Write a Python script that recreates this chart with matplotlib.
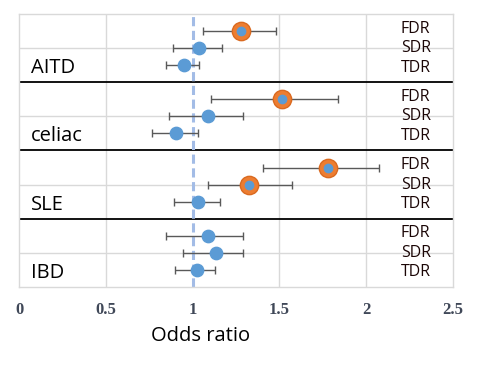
import numpy as np
import matplotlib.pyplot as plt

groups = ["AITD", "celiac", "SLE", "IBD"]
tests = ["FDR", "SDR", "TDR"]
odds = [[1.277, 1.038, 0.951],
        [1.517, 1.090, 0.902],
        [1.783, 1.327, 1.032],
        [1.090, 1.133, 1.023]]
low = [[1.061, 0.885, 0.848],
       [1.104, 0.861, 0.763],
       [1.408, 1.090, 0.890],
       [0.848, 0.942, 0.900]]
high = [[1.480, 1.169, 1.036],
        [1.841, 1.292, 1.032],
        [2.077, 1.571, 1.159],
        [1.289, 1.289, 1.131]]
signif = [[True, False, False],
          [True, False, False],
          [True, True, False],
          [False, False, False]]

blue = "#5B9BD5"
orange = "#ED7D31"
grid_c = "#D9D9D9"

fig = plt.figure(figsize=(4.8, 3.65), dpi=100)
ax = fig.add_axes([0.0406, 0.2137, 0.9025, 0.748])

offsets = [1.5, 1.0, 0.5]
for g, name in enumerate(groups):
    base = 2 * (len(groups) - 1 - g)
    for t in range(3):
        y = base + offsets[t]
        x = odds[g][t]
        ax.errorbar(x, y, xerr=[[x - low[g][t]], [high[g][t] - x]], fmt="none",
                    ecolor="#595959", elinewidth=1, capsize=3, capthick=1, zorder=3)
        if signif[g][t]:
            ax.plot(x, y, "o", ms=13.2, color=orange, mec="#DA6A20", zorder=4)
            ax.plot(x, y, "o", ms=6, color=blue, mec=blue, zorder=5)
        else:
            ax.plot(x, y, "o", ms=8.9, color=blue, mec=blue, zorder=4)
    ax.text(0.065, base + 0.27, name, fontsize=14.5, family="Open Sans", va="baseline", zorder=6)
    for t, lab in enumerate(tests):
        ax.text(2.2, base + [1.57, 1.0, 0.43][t], lab, fontsize=11.5, family="Open Sans",
                color="#1A0505", va="center", zorder=6)

for xv in [0.5, 1.5, 2]:
    ax.axvline(xv, color=grid_c, lw=1, zorder=1)
for yv in [1, 3, 5, 7]:
    ax.axhline(yv, color=grid_c, lw=1, zorder=1)
for yv in [2, 4, 6]:
    ax.axhline(yv, color="black", lw=1.3, zorder=2)
ax.axvline(1.0, color="#A3BCE6", lw=2.2, ls=(0, (3, 1.5)), zorder=2)

ax.set_xlim(0, 2.5)
ax.set_ylim(0, 8)
ax.set_xticks([0, 0.5, 1, 1.5, 2, 2.5])
ax.set_xticklabels(["0", "0.5", "1", "1.5", "2", "2.5"], family="Liberation Serif",
                   fontweight="bold", fontsize=12, color="#404858")
ax.set_yticks([])
ax.tick_params(axis="x", length=0, pad=11)
for s in ax.spines.values():
    s.set_color(grid_c)
    s.set_linewidth(1)

fig.text(201 / 480, 1 - 336 / 365, "Odds ratio", fontsize=14.5, family="Open Sans",
         ha="center", va="center")

fig.savefig("out.png", dpi=100)
